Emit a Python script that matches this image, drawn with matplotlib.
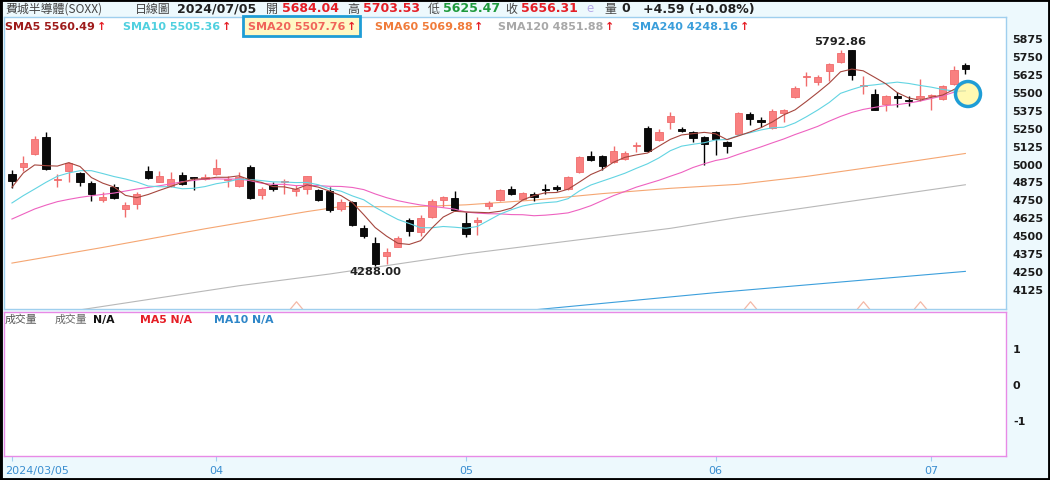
import numpy as np
import matplotlib
matplotlib.use("Agg")
import matplotlib.pyplot as plt
from matplotlib.patches import Rectangle, Ellipse
from matplotlib.path import Path
import matplotlib.transforms as mtransforms

plt.rcParams['font.family'] = ['DejaVu Sans', 'Noto Sans CJK TC']

# SOXX daily candles, 2024/03/05 .. 2024/07/05
opens = [4927, 4978, 5066, 5187, 4885, 4945, 4931, 4862, 4748, 4834,
         4683, 4718, 4950, 4873, 4841, 4920, 4904, 4892, 4927, 4885,
         4841, 4973, 4780, 4852, 4873, 4811, 4822, 4815, 4811, 4683,
         4729, 4550, 4443, 4353, 4420, 4606, 4520, 4625, 4746, 4757,
         4585, 4590, 4701, 4746, 4822, 4753, 4787, 4822, 4829, 4822,
         4943, 5050, 5055, 5008, 5031, 5120, 5245, 5164, 5287, 5240,
         5222, 5182, 5217, 5147, 5206, 5345, 5299, 5245, 5352, 5461,
         5601, 5566, 5643, 5710, 5790, 5543, 5485, 5415, 5468, 5443,
         5454, 5468, 5450, 5554, 5684.04]
highs = [4957, 5055, 5194, 5222, 4927, 5008, 4938, 4880, 4799, 4857,
         4729, 4799, 4985, 4950, 4938, 4943, 4908, 4927, 5031, 4915,
         4938, 4990, 4834, 4869, 4892, 4850, 4915, 4822, 4834, 4753,
         4741, 4571, 4485, 4409, 4492, 4618, 4641, 4753, 4776, 4811,
         4660, 4625, 4741, 4822, 4845, 4799, 4799, 4857, 4850, 4911,
         5055, 5090, 5059, 5124, 5089, 5147, 5264, 5240, 5357, 5252,
         5229, 5189, 5229, 5159, 5361, 5361, 5326, 5380, 5380, 5543,
         5636, 5617, 5701, 5792.86, 5790, 5612, 5519, 5478, 5501, 5468,
         5589, 5485, 5547, 5677, 5703.53]
lows = [4829, 4950, 5060, 4957, 4834, 4869, 4845, 4741, 4729, 4752,
        4625, 4683, 4892, 4869, 4834, 4852, 4815, 4887, 4920, 4834,
        4834, 4752, 4752, 4811, 4787, 4771, 4787, 4741, 4664, 4666,
        4567, 4478, 4288, 4299, 4415, 4492, 4492, 4618, 4694, 4671,
        4485, 4501, 4683, 4741, 4783, 4748, 4741, 4787, 4811, 4818,
        4934, 5020, 4957, 5003, 5027, 5078, 5082, 5159, 5240, 5217,
        5147, 4989, 5059, 5073, 5199, 5268, 5252, 5241, 5292, 5454,
        5538, 5547, 5578, 5701, 5584, 5485, 5371, 5368, 5392, 5403,
        5438, 5375, 5445, 5547, 5625.47]
closes = [4880, 5003, 5171, 4962, 4892, 5001, 4869, 4787, 4764, 4759,
          4711, 4787, 4897, 4911, 4892, 4857, 4899, 4908, 4966, 4892,
          4904, 4757, 4822, 4822, 4880, 4818, 4911, 4746, 4678, 4729,
          4571, 4492, 4299, 4381, 4478, 4532, 4618, 4741, 4764, 4678,
          4508, 4608, 4725, 4818, 4787, 4792, 4764, 4818, 4827, 4904,
          5043, 5024, 4985, 5090, 5073, 5129, 5089, 5222, 5329, 5224,
          5175, 5136, 5171, 5124, 5352, 5310, 5294, 5368, 5373, 5524,
          5608, 5601, 5694, 5770, 5617, 5547, 5375, 5468, 5461, 5433,
          5468, 5478, 5543, 5651.72, 5656.31]

sma5 = [4834, 4934, 4990, 4985, 4982, 5006, 4979, 4902, 4863, 4836,
        4778, 4762, 4784, 4813, 4840, 4869, 4891, 4893, 4904, 4904,
        4914, 4885, 4868, 4839, 4837, 4820, 4851, 4835, 4807, 4776,
        4727, 4643, 4554, 4494, 4444, 4436, 4462, 4550, 4627, 4667,
        4662, 4660, 4657, 4667, 4689, 4746, 4777, 4796, 4798, 4821,
        4871, 4923, 4957, 5009, 5043, 5060, 5073, 5121, 5168, 5199,
        5208, 5217, 5207, 5166, 5192, 5219, 5250, 5290, 5339, 5374,
        5433, 5495, 5560, 5639, 5658, 5646, 5601, 5555, 5494, 5457,
        5441, 5462, 5477, 5516, 5560.49]
sma10 = [4725, 4776, 4822, 4869, 4911, 4934, 4950, 4950, 4930, 4909,
         4892, 4871, 4843, 4838, 4838, 4824, 4827, 4839, 4859, 4872,
         4892, 4888, 4881, 4872, 4871, 4867, 4868, 4852, 4823, 4807,
         4774, 4747, 4695, 4651, 4610, 4582, 4553, 4552, 4561, 4556,
         4549, 4561, 4604, 4647, 4678, 4704, 4719, 4727, 4733, 4755,
         4809, 4850, 4877, 4904, 4932, 4966, 4998, 5039, 5089, 5121,
         5134, 5145, 5164, 5167, 5196, 5214, 5234, 5249, 5253, 5283,
         5326, 5373, 5425, 5489, 5516, 5540, 5548, 5558, 5567, 5558,
         5544, 5532, 5516, 5505, 5505.36]
sma20 = [4613, 4648, 4683, 4710, 4734, 4750, 4764, 4775, 4785, 4794,
         4808, 4822, 4833, 4845, 4858, 4873, 4882, 4892, 4893, 4891,
         4892, 4880, 4862, 4855, 4855, 4846, 4848, 4846, 4841, 4840,
         4833, 4818, 4788, 4762, 4741, 4725, 4711, 4702, 4692, 4682,
         4662, 4654, 4650, 4649, 4644, 4643, 4636, 4640, 4647, 4656,
         4679, 4706, 4741, 4776, 4805, 4835, 4859, 4883, 4911, 4938,
         4972, 4998, 5021, 5036, 5064, 5090, 5116, 5144, 5171, 5202,
         5230, 5259, 5295, 5328, 5356, 5377, 5391, 5404, 5410, 5421,
         5435, 5453, 5471, 5497, 5507.76]
# long averages, read at a handful of candles
sma60_idx = [0, 8, 17, 26, 29, 35, 40, 46, 52, 58, 64, 70, 78, 84]
sma60 = [4306, 4415, 4545, 4665, 4700, 4698, 4712, 4745, 4790, 4827, 4855, 4910, 5000, 5069.88]
sma120_idx = [0, 20, 28, 40, 58, 64, 84]
sma120 = [3908, 4148, 4230, 4370, 4548, 4624, 4851.88]
sma240_idx = [40, 62, 84]
sma240 = [3935, 4100, 4248.16]

tick_idx = [0, 18, 40, 62, 81]
tick_labels = ["2024/03/05", "04", "05", "06", "07"]
event_idx = [25, 65, 75, 80]
price_ticks = np.arange(4125, 5876, 125)

W, H = 1050, 481
fig = plt.figure(figsize=(W / 100, H / 100), dpi=100, facecolor='#EDF9FD')


def fx(x):
    return x / W


def fy(y):
    return 1 - y / H


ax = fig.add_axes([fx(4), fy(310), 1002 / W, 292 / H])
vol = fig.add_axes([fx(4), fy(457), 1002 / W, 144 / H])

o = np.array(opens, float)
hi = np.array(highs, float)
lo = np.array(lows, float)
c = np.array(closes, float)
x = np.arange(len(c))
up = c >= o

# candles
wick_col = np.where(up, '#F06C6C', '#000000')
body_col = np.where(up, '#F98080', '#0A0A0A')
ax.vlines(x, lo, hi, colors=wick_col, linewidth=1.0, zorder=2)
h = np.abs(c - o)
hh = np.maximum(h, 10)
ax.bar(x, hh, bottom=np.minimum(o, c) - (hh - h) / 2, width=0.64,
       color=body_col, edgecolor=wick_col, linewidth=0.6, zorder=3)

# moving averages
ax.plot(sma60_idx, sma60, color='#F5A672', lw=0.8, zorder=1)
ax.plot(sma120_idx, sma120, color='#B8B8B8', lw=0.8, zorder=1)
ax.plot(sma240_idx, sma240, color='#3C9FDC', lw=0.8, zorder=1)
ax.plot(x, sma20, color='#EE62C0', lw=0.8, zorder=4)
ax.plot(x, sma10, color='#62D4E2', lw=0.8, zorder=4)
ax.plot(x, sma5, color='#A5463E', lw=0.8, zorder=4)

# event chevrons at the bottom of the price panel
chevron = Path([(-1, -0.6), (0, 0.6), (1, -0.6)], [Path.MOVETO, Path.LINETO, Path.LINETO])
ax.plot(event_idx, [4013] * len(event_idx), ls='none', marker=chevron, ms=9,
        mfc='none', mec='#F4B8A6', mew=0.9, zorder=2)

# max / min labels
ih = int(np.argmax(hi))
il = int(np.argmin(lo))
ax.annotate(f"{hi[ih]:.2f}", (ih, hi[ih]), xytext=(0, 2.5), textcoords='offset points',
            ha='center', va='bottom', fontsize=8.2, fontweight='bold', color='#222222')
ax.annotate(f"{lo[il]:.2f}", (il, lo[il]), xytext=(0, -0.5), textcoords='offset points',
            ha='center', va='top', fontsize=8.2, fontweight='bold', color='#222222')

ax.set_xlim(-0.70, 87.58)
ax.set_ylim(3986, 6021)
ax.set_xticks([])
ax.yaxis.tick_right()
ax.set_yticks(price_ticks)
ax.set_yticklabels([str(v) for v in price_ticks])
ax.tick_params(axis='y', length=0, pad=4.5, labelsize=8, labelcolor='#1A1A1A')
for lbl in ax.get_yticklabels():
    lbl.set_fontweight('bold')
for s in ax.spines.values():
    s.set_color('#9FCFEE')
    s.set_linewidth(1.0)

# volume panel (empty)
vol.set_xlim(-0.70, 87.58)
vol.set_ylim(-2, 2)
vol.yaxis.tick_right()
vol.set_yticks([1, 0, -1])
vol.set_yticklabels(['1', '0', '-1'])
vol.tick_params(axis='y', length=0, pad=5, labelsize=8, labelcolor='#1A1A1A')
for lbl in vol.get_yticklabels():
    lbl.set_fontweight('bold')
vol.set_xticks(tick_idx)
vol.set_xticklabels(tick_labels)
vol.tick_params(axis='x', direction='out', length=3.5, width=0.8, color='#9FCFEE',
                labelcolor='#3A8ED0', labelsize=8, pad=3)
first = vol.get_xticklabels()[0]
first.set_ha('left')
first.set_transform(first.get_transform() +
                    mtransforms.ScaledTranslation(-7 / 100, 0, fig.dpi_scale_trans))
for s in vol.spines.values():
    s.set_color('#E88AE6')
    s.set_linewidth(1.0)

# header row
cjk = ['Noto Sans CJK TC', 'DejaVu Sans']
red, green = '#E51E26', '#1E9A3C'
chg = c[-1] - c[-2]
pct = chg / c[-2] * 100
header = [
    (5, "費城半導體(SOXX)", '#444444', 'normal', cjk, 8.6),
    (135, "日線圖", '#444444', 'normal', cjk, 8.6),
    (177, "2024/07/05", '#222222', 'bold', None, 9),
    (266, "開", '#444444', 'normal', cjk, 8.6),
    (282, f"{o[-1]:.2f}", red, 'bold', None, 9),
    (347, "高", '#444444', 'normal', cjk, 8.6),
    (363, f"{hi[-1]:.2f}", red, 'bold', None, 9),
    (428, "低", '#444444', 'normal', cjk, 8.6),
    (443, f"{lo[-1]:.2f}", green, 'bold', None, 9),
    (505, "收", '#444444', 'normal', cjk, 8.6),
    (521, f"{c[-1]:.2f}", red, 'bold', None, 9),
    (586, "e", '#B7A9E9', 'normal', None, 8.6),
    (604, "量", '#444444', 'normal', cjk, 8.6),
    (621, "0", '#222222', 'bold', None, 9),
    (643, f"{chg:+.2f} ({pct:+.2f}%)", '#222222', 'bold', None, 9),
]
for xp, txt, col, wt, fam, fs in header:
    kw = {'family': fam} if fam else {}
    fig.text(fx(xp), fy(9), txt, color=col, fontweight=wt, fontsize=fs, va='center', **kw)

# legend row
fig.add_artist(Rectangle((fx(243), fy(37)), 117 / W, 20 / H, transform=fig.transFigure,
                         facecolor='#FFF8C4', edgecolor='#1E9DD6', lw=2, zorder=2))
legend = [
    (5, "SMA5", sma5[-1], '#9E1B1B'),
    (123, "SMA10", sma10[-1], '#4FD0DF'),
    (248, "SMA20", sma20[-1], '#F0645A'),
    (375, "SMA60", sma60[-1], '#F07B3A'),
    (498, "SMA120", sma120[-1], '#A8A8A8'),
    (632, "SMA240", sma240[-1], '#3A9EDB'),
]
renderer = fig.canvas.get_renderer()
for xp, name, val, col in legend:
    t = fig.text(fx(xp), fy(27), f"{name} {val:.2f}", color=col, fontweight='bold',
                 fontsize=8, va='center', zorder=3)
    bb = t.get_window_extent(renderer)
    fig.text(bb.x1 / W + 1.5 / W, fy(27), "↑", color='#E51E26', fontweight='bold',
             fontsize=8, va='center', zorder=3)

# highlight circle on the latest averages
fig.add_artist(Ellipse((fx(968), fy(95)), 25 / W, 25 / H, transform=fig.transFigure,
                       facecolor=(1, 0.97, 0.6, 0.75), edgecolor='#1E9DD6', lw=2.5, zorder=2))

# volume panel labels
vol_labels = [
    (5, "成交量", '#555555', 'normal', cjk),
    (55, "成交量", '#666666', 'normal', cjk),
    (93, "N/A", '#111111', 'bold', None),
    (140, "MA5 N/A", '#E51E26', 'bold', None),
    (214, "MA10 N/A", '#2E86C8', 'bold', None),
]
for xp, txt, col, wt, fam in vol_labels:
    kw = {'family': fam} if fam else {}
    fig.text(fx(xp), fy(320), txt, color=col, fontweight=wt, fontsize=7.8, va='center', **kw)

# outer frame
fig.add_artist(Rectangle((0, 0), 1, 1, transform=fig.transFigure, fill=False,
                         edgecolor='black', lw=3.5, zorder=10))

fig.savefig("out.png", dpi=100, facecolor=fig.get_facecolor())
